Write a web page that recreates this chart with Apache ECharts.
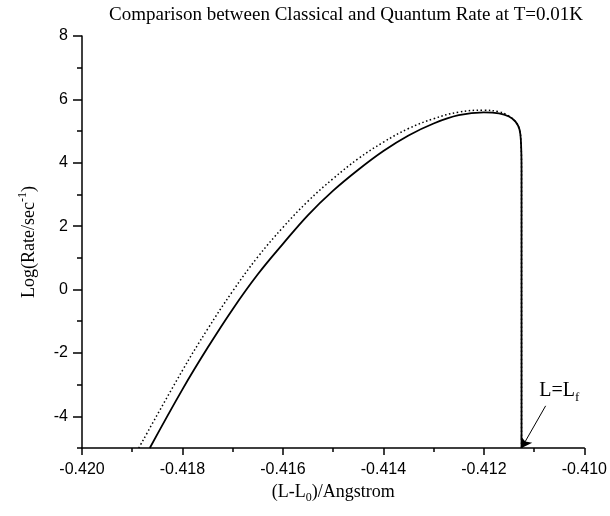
<!DOCTYPE html>
<html><head><meta charset="utf-8">
<script src="https://cdn.jsdelivr.net/npm/echarts@6/dist/echarts.min.js"></script>
<style>html,body{margin:0;padding:0;background:#fff}#c{width:610px;height:516px}</style>
</head><body><div id="c"></div>
<script>
const titleText = 'Comparison between Classical and Quantum Rate at T=0.01K';
const solidX = [-0.41865, -0.41800, -0.41750, -0.41700, -0.41650, -0.41600, -0.41550, -0.41500, -0.41450, -0.41400, -0.41350, -0.41300, -0.41250, -0.41200, -0.41170, -0.41150, -0.41137, -0.41129, -0.41126, -0.41125, -0.41125];
const solidY = [-5.00, -3.15, -1.84, -0.62, 0.48, 1.44, 2.35, 3.12, 3.78, 4.37, 4.86, 5.24, 5.50, 5.59, 5.56, 5.46, 5.30, 5.05, 4.60, 3.80, -5.00];
const dottedX = [-0.41887, -0.41800, -0.41750, -0.41700, -0.41650, -0.41600, -0.41550, -0.41500, -0.41450, -0.41400, -0.41350, -0.41300, -0.41250, -0.41200, -0.41170, -0.41155, -0.41137, -0.41129, -0.41126, -0.41125, -0.41125];
const dottedY = [-5.00, -2.55, -1.25, -0.05, 1.03, 1.96, 2.79, 3.50, 4.13, 4.65, 5.08, 5.39, 5.60, 5.66, 5.61, 5.52, 5.30, 5.05, 4.60, 3.80, -5.00];
const yMajorTicks = [-4, -2, 0, 2, 4, 6, 8];
const yMinorTicks = [-5, -3, -1, 1, 3, 5, 7];
const xRange = [-0.420, -0.410];
const yRange = [-5, 8];
const arrowFrom = [-0.41077, -3.67];
const arrowTo = [-0.41125, -5.00];
const labelAt = [-0.41050, -3.20];

const SERIF = 'Liberation Serif';
const SANS = 'Liberation Sans';
const chart = echarts.init(document.getElementById('c'), null, {renderer: 'canvas'});
const toPairs = (xs, ys) => xs.map((x, i) => [x, ys[i]]);
const black = '#000';

chart.setOption({
  animation: false,
  backgroundColor: '#fff',
  title: {
    text: titleText, left: 104, top: 1,
    textStyle: {fontFamily: SERIF, fontSize: 19, fontWeight: 'normal', color: black}
  },
  grid: {left: 82, right: 24, top: 36, bottom: 68},
  xAxis: {
    type: 'value', min: xRange[0], max: xRange[1], interval: 0.002,
    axisLine: {onZero: false, lineStyle: {color: black, width: 1.5}},
    axisTick: {length: 7, lineStyle: {color: black, width: 1.5}},
    minorTick: {show: true, splitNumber: 2, length: 4, lineStyle: {color: black, width: 1.5}},
    axisLabel: {formatter: v => v.toFixed(3), fontFamily: SANS, fontSize: 16, color: black, margin: 14},
    splitLine: {show: false},
    name: '{a|(L-L}{b|0}{a|)/Angstrom}', nameLocation: 'middle', nameGap: 32,
    nameTextStyle: {
      fontFamily: SERIF, fontSize: 18, color: black,
      rich: {
        a: {fontFamily: SERIF, fontSize: 18, color: black, lineHeight: 24},
        b: {fontFamily: SERIF, fontSize: 12, color: black, lineHeight: 24, verticalAlign: 'bottom'}
      }
    }
  },
  yAxis: [{
    type: 'value', min: yRange[0], max: yRange[1], interval: 1, position: 'left',
    axisLine: {onZero: false, lineStyle: {color: black, width: 1.5}},
    axisTick: {customValues: yMajorTicks, length: 9, lineStyle: {color: black, width: 1.5}},
    axisLabel: {customValues: yMajorTicks, fontFamily: SANS, fontSize: 16, color: black, margin: 14},
    splitLine: {show: false},
    name: '{a|Log(Rate/sec}{s|-1}{a|)}', nameLocation: 'middle', nameGap: 41,
    nameTextStyle: {
      fontFamily: SERIF, fontSize: 18, color: black,
      rich: {
        a: {fontFamily: SERIF, fontSize: 18, color: black, lineHeight: 24},
        s: {fontFamily: SERIF, fontSize: 12, color: black, lineHeight: 24, verticalAlign: 'top'}
      }
    }
  }, {
    type: 'value', min: yRange[0], max: yRange[1], interval: 1, position: 'left', offset: 0,
    axisLine: {show: false, onZero: false},
    axisTick: {customValues: yMinorTicks, length: 5, lineStyle: {color: black, width: 1.5}},
    axisLabel: {show: false},
    splitLine: {show: false}
  }],
  series: [{
    type: 'line', data: toPairs(solidX, solidY), yAxisIndex: 0,
    showSymbol: false, smooth: 0.4, silent: true,
    lineStyle: {color: black, width: 1.8, type: 'solid'},
    markLine: {
      silent: true, symbol: ['none', 'arrow'], symbolSize: 10,
      lineStyle: {color: black, width: 1, type: 'solid'},
      label: {show: false},
      data: [[{coord: arrowFrom}, {coord: arrowTo}]]
    }
  }, {
    type: 'line', data: toPairs(dottedX, dottedY), yAxisIndex: 0,
    showSymbol: false, smooth: 0.4, silent: true,
    lineStyle: {color: black, width: 1.5, type: [1.5, 2.5]}
  }]
});

const p = chart.convertToPixel({xAxisIndex: 0, yAxisIndex: 0}, labelAt);
chart.setOption({
  graphic: [{
    type: 'text', x: p[0], y: p[1], silent: true,
    style: {
      text: '{a|L=L}{b|f}', align: 'center', verticalAlign: 'middle',
      rich: {
        a: {fontFamily: SERIF, fontSize: 20, fill: black, lineHeight: 26},
        b: {fontFamily: SERIF, fontSize: 13, fill: black, lineHeight: 26, verticalAlign: 'bottom'}
      }
    }
  }]
});
</script></body></html>
